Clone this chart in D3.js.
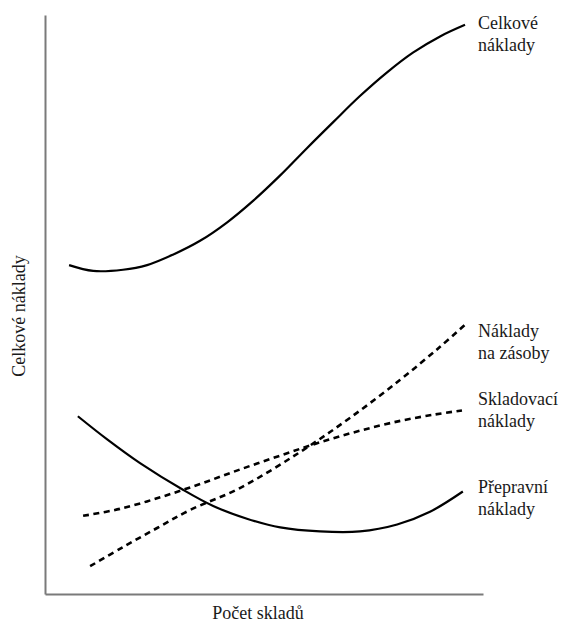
<!DOCTYPE html>
<html>
<head>
<meta charset="utf-8">
<script src="https://cdn.jsdelivr.net/npm/d3@7"></script>
<style>
  html, body { margin: 0; padding: 0; background: #fff; }
  svg { display: block; }
  text { font-family: "Liberation Serif", "Times New Roman", serif; fill: #1a1a1a; }
</style>
</head>
<body>
<script>
// ---- data (abstract units: x = počet skladů 0..100, y = náklady 0..100) ----
const totalX = [5.5, 11.0, 17.8, 23.3, 29.2, 35.4, 41.6, 47.5, 53.7, 59.8, 65.8, 71.9, 78.1, 84.0, 90.2, 95.9];
const totalY = [56.8, 55.8, 56.0, 56.8, 58.6, 61.0, 64.2, 67.9, 72.3, 77.0, 81.5, 86.0, 90.1, 93.5, 96.3, 98.3];

const transportX = [7.5, 14.2, 21.7, 31.5, 38.4, 46.1, 53.7, 62.8, 71.9, 80.4, 87.9, 95.4];
const transportY = [30.7, 26.7, 22.6, 18.0, 15.2, 13.0, 11.5, 10.8, 10.8, 12.0, 14.2, 17.7];

const storageX = [8.7, 17.1, 26.3, 35.4, 44.5, 53.7, 62.8, 71.9, 81.1, 89.0, 95.2];
const storageY = [13.5, 14.7, 16.7, 19.0, 21.5, 23.9, 26.2, 28.2, 29.9, 31.0, 31.7];

const inventoryX = [10.3, 17.8, 25.6, 33.1, 44.5, 58.2, 69.6, 81.1, 90.2, 95.9];
const inventoryY = [4.8, 8.1, 11.4, 14.5, 18.3, 24.5, 30.4, 37.0, 42.7, 46.5];

const labelLines = [["Celkové", "náklady"], ["Přepravní", "náklady"], ["Skladovací", "náklady"], ["Náklady", "na zásoby"]];
const labelBaselines = [29, 493, 405, 337];
const xTitle = "Počet skladů";
const yTitle = "Celkové náklady";

// ---- layout ----
const W = 564, H = 624;
const svg = d3.select("body").append("svg").attr("width", W).attr("height", H);

const x = d3.scaleLinear().domain([0, 100]).range([45, 483]);
const y = d3.scaleLinear().domain([0, 100]).range([594, 15]);

// axes (no ticks, just the lines)
const axisColor = "#7a7a7a";
const gx = svg.append("g").attr("transform", `translate(0,${y(0)})`)
  .call(d3.axisBottom(x).tickValues([]).tickSizeOuter(0));
const gy = svg.append("g").attr("transform", `translate(${x(0)},0)`)
  .call(d3.axisLeft(y).tickValues([]).tickSizeOuter(0));
[gx, gy].forEach(g => g.select(".domain").attr("stroke", axisColor).attr("stroke-width", 2));

// curves
const line = d3.line().x(d => x(d[0])).y(d => y(d[1])).curve(d3.curveCatmullRom.alpha(0.5));
const series = [
  { xs: totalX, ys: totalY, dash: null },
  { xs: transportX, ys: transportY, dash: null },
  { xs: storageX, ys: storageY, dash: "6,4.5" },
  { xs: inventoryX, ys: inventoryY, dash: "6,4.5" }
];
series.forEach(s => {
  const pts = s.xs.map((v, i) => [v, s.ys[i]]);
  svg.append("path")
    .attr("d", line(pts))
    .attr("fill", "none")
    .attr("stroke", "#000")
    .attr("stroke-width", s.dash ? 2.6 : 2.2)
    .attr("stroke-dasharray", s.dash);
});

// right-hand labels
const fs = 18;
labelLines.forEach((lines, i) => {
  const t = svg.append("text").attr("x", 478).attr("y", labelBaselines[i]).attr("font-size", fs);
  lines.forEach((ln, j) => {
    t.append("tspan").attr("x", 478).attr("dy", j === 0 ? 0 : 22).text(ln);
  });
});

// axis titles
svg.append("text")
  .attr("x", 258)
  .attr("y", 619)
  .attr("text-anchor", "middle")
  .attr("font-size", fs)
  .text(xTitle);

svg.append("text")
  .attr("transform", `translate(25,316) rotate(-90)`)
  .attr("text-anchor", "middle")
  .attr("font-size", fs)
  .text(yTitle);
</script>
</body>
</html>
